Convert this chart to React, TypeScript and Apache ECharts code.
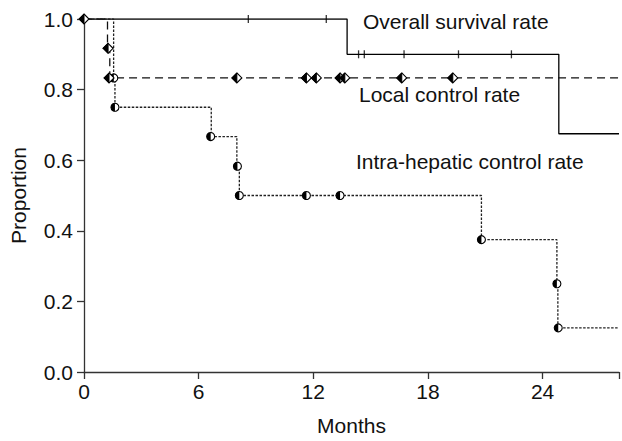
import React, { useEffect, useRef } from "react";
import * as echarts from "echarts";

// Kaplan–Meier step data (months, proportion)
const survivalSteps: number[][] = [
  [0, 1.0],
  [13.77, 0.9],
  [24.85, 0.675],
  [28, 0.675],
];
const survivalCensors: number[][] = [
  [8.6, 1.0],
  [12.68, 1.0],
  [14.37, 0.9],
  [14.67, 0.9],
  [16.75, 0.9],
  [19.6, 0.9],
  [22.37, 0.9],
];

const localSteps: number[][] = [
  [0, 1.0],
  [1.23, 0.917],
  [1.35, 0.833],
  [28, 0.833],
];
const localMarkers: number[][] = [
  [0, 1.0],
  [1.26, 0.917],
  [1.31, 0.833],
  [8.0, 0.833],
  [11.64, 0.833],
  [12.16, 0.833],
  [13.4, 0.833],
  [13.65, 0.833],
  [16.63, 0.833],
  [19.3, 0.833],
];

const intraSteps: number[][] = [
  [0, 1.0],
  [1.55, 0.833],
  [1.62, 0.75],
  [6.66, 0.667],
  [8.0, 0.583],
  [8.13, 0.5],
  [20.8, 0.375],
  [24.75, 0.25],
  [24.8, 0.125],
  [28, 0.125],
];
const intraMarkers: number[][] = [
  [1.56, 0.833],
  [1.62, 0.75],
  [6.63, 0.667],
  [8.03, 0.583],
  [8.13, 0.5],
  [11.64, 0.5],
  [13.4, 0.5],
  [20.8, 0.375],
  [24.75, 0.25],
  [24.82, 0.125],
];

const xTicks = [0, 6, 12, 18, 24];
const yTicks = [0, 0.2, 0.4, 0.6, 0.8, 1.0];

const curveLabels = [
  { text: "Overall survival rate", x: 363, y: 21 },
  { text: "Local control rate", x: 359, y: 94 },
  { text: "Intra-hepatic control rate", x: 356, y: 161 },
];

const FONT = "'Liberation Sans', Arial, sans-serif";
const INK = "#111";
const FS = 21;

export default function App() {
  const ref = useRef<HTMLDivElement>(null);

  useEffect(() => {
    if (!ref.current) return;
    const chart = echarts.init(ref.current, undefined, { renderer: "svg" });

    const halfDiamond = (params: any, api: any) => {
      const p = api.coord([api.value(0), api.value(1)]);
      const x = p[0];
      const y = p[1];
      const h = 5;
      return {
        type: "group",
        children: [
          {
            type: "polygon",
            shape: { points: [[x, y - h], [x + h, y], [x, y + h], [x - h, y]] },
            style: { fill: "#fff", stroke: "#000", lineWidth: 1.1 },
          },
          {
            type: "polygon",
            shape: { points: [[x, y - h], [x, y + h], [x - h, y]] },
            style: { fill: "#000", stroke: "#000", lineWidth: 1 },
          },
        ],
      };
    };

    const halfCircle = (params: any, api: any) => {
      const p = api.coord([api.value(0), api.value(1)]);
      const x = p[0];
      const y = p[1];
      const r = 4;
      return {
        type: "group",
        children: [
          {
            type: "circle",
            shape: { cx: x, cy: y, r },
            style: { fill: "#fff", stroke: "#000", lineWidth: 1.1 },
          },
          {
            type: "sector",
            shape: { cx: x, cy: y, r, r0: 0, startAngle: Math.PI / 2, endAngle: (Math.PI * 3) / 2 },
            style: { fill: "#000" },
          },
        ],
      };
    };

    chart.setOption({
      animation: false,
      backgroundColor: "#fff",
      grid: { left: 84, top: 19, width: 539.5, height: 354, containLabel: false },
      xAxis: {
        type: "value",
        min: 0,
        max: 28,
        interval: 6,
        name: "Months",
        nameLocation: "middle",
        nameGap: 43,
        nameTextStyle: { fontFamily: FONT, fontSize: FS, color: INK },
        axisLine: { lineStyle: { color: "#333", width: 1.3 } },
        axisTick: { show: true, inside: false, length: 7, lineStyle: { color: "#333", width: 1.3 } },
        axisLabel: {
          margin: 9,
          fontFamily: FONT,
          fontSize: FS,
          color: INK,
          formatter: (v: number) => (xTicks.includes(v) ? String(v) : ""),
        },
        splitLine: { show: false },
      },
      yAxis: {
        type: "value",
        min: 0,
        max: 1,
        interval: 0.2,
        name: "Proportion",
        nameLocation: "middle",
        nameGap: 55,
        nameTextStyle: { fontFamily: FONT, fontSize: FS, color: INK },
        axisLine: { show: true, lineStyle: { color: "#333", width: 1.3 } },
        axisTick: { show: true, inside: false, length: 7, lineStyle: { color: "#333", width: 1.3 } },
        axisLabel: {
          margin: 11,
          fontFamily: FONT,
          fontSize: FS,
          color: INK,
          formatter: (v: number) => {
            const t = yTicks.find((k) => Math.abs(k - v) < 1e-6);
            return t === undefined ? "" : t.toFixed(1);
          },
        },
        splitLine: { show: false },
      },
      series: [
        {
          type: "line",
          step: "end",
          data: survivalSteps,
          symbol: "none",
          lineStyle: { color: "#000", width: 1.3, type: "solid" },
          z: 3,
        },
        {
          type: "scatter",
          data: survivalCensors,
          symbol: "rect",
          symbolSize: [1.3, 8],
          itemStyle: { color: "#000" },
          z: 4,
        },
        {
          type: "line",
          step: "end",
          data: localSteps,
          symbol: "none",
          lineStyle: { color: "#111", width: 1.3, type: [8, 5] },
          z: 3,
        },
        {
          type: "line",
          step: "end",
          data: intraSteps,
          symbol: "none",
          lineStyle: { color: "#222", width: 1.3, type: [2.5, 1.5] },
          z: 3,
        },
        {
          type: "custom",
          data: intraMarkers,
          renderItem: halfCircle,
          z: 5,
        },
        {
          type: "custom",
          data: localMarkers,
          renderItem: halfDiamond,
          z: 6,
        },
      ],
      graphic: curveLabels.map((l) => ({
        type: "text",
        x: l.x,
        y: l.y,
        style: {
          text: l.text,
          fontFamily: FONT,
          fontSize: FS,
          fill: INK,
          verticalAlign: "middle",
          align: "left",
        },
        z: 10,
      })),
    });

    return () => chart.dispose();
  }, []);

  return (
    <div
      ref={ref}
      style={{ position: "fixed", left: 0, top: 0, width: 622, height: 441, background: "#fff" }}
    />
  );
}
